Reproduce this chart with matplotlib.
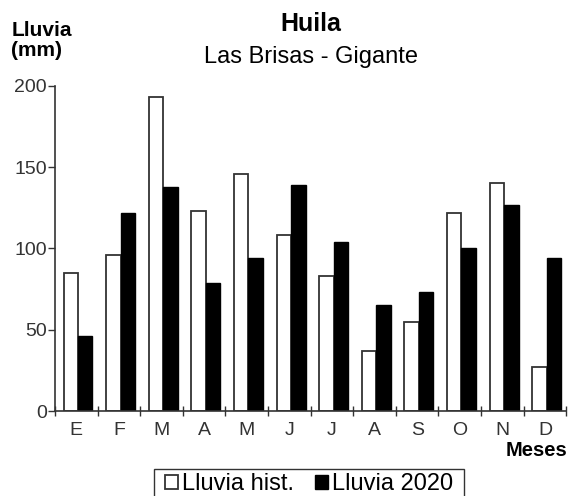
import matplotlib.pyplot as plt
from matplotlib.patches import Rectangle
import numpy as np

plt.rcParams["font.family"] = ["Liberation Sans", "DejaVu Sans"]

months = ["E", "F", "M", "A", "M", "J", "J", "A", "S", "O", "N", "D"]
lluvia_hist = [85, 96, 193, 123, 146, 108, 83, 37, 55, 122, 140, 27]
lluvia_2020 = [46, 122, 138, 79, 94, 139, 104, 65, 73, 100, 127, 94]
yticks = [0, 50, 100, 150, 200]

fig = plt.figure(figsize=(5.7, 4.96), dpi=100)
ax = fig.add_axes([0.0965, 0.171, 0.897, 0.656])

x = np.arange(len(months))
w = 0.34
off = 0.04
ax.bar(x - w / 2 + off, lluvia_hist, w, color="white", edgecolor="#333333",
       linewidth=1.3, label="Lluvia hist.")
ax.bar(x + w / 2 + off, lluvia_2020, w, color="black", edgecolor="black",
       linewidth=1.0, label="Lluvia 2020")

ax.set_xlim(-0.5, len(months) - 0.5)
ax.set_ylim(0, 200)
ax.set_yticks(yticks)
ax.set_xticks(x)
ax.set_xticklabels(months)
ax.set_xticks(np.arange(-0.5, len(months)), minor=True)
ax.tick_params(axis="x", which="major", length=0, labelsize=14,
               labelcolor="#333333", pad=8)
ax.tick_params(axis="x", which="minor", direction="inout", length=7,
               width=1, color="#333333")
ax.tick_params(axis="y", length=5, width=1, color="#333333",
               labelsize=14, labelcolor="#333333", pad=1)
for s in ["top", "right"]:
    ax.spines[s].set_visible(False)
for s in ["left", "bottom"]:
    ax.spines[s].set_color("#333333")
    ax.spines[s].set_linewidth(1.2)

fig.text(0.545, 0.951, "Huila", ha="center", va="center",
         fontsize=18, fontweight="bold")
fig.text(0.545, 0.886, "Las Brisas - Gigante", ha="center", va="center",
         fontsize=17)
fig.text(0.020, 0.918, "Lluvia\n(mm)", ha="left", va="center",
         fontsize=15, fontweight="bold", linespacing=1.05)
fig.text(0.995, 0.091, "Meses", ha="right", va="center",
         fontsize=14.5, fontweight="bold")

# legend without frame, box drawn by hand (the bottom edge runs off the figure)
leg = fig.legend(loc="upper center", bbox_to_anchor=(0.542, 0.0505), ncol=2,
                 fontsize=17, frameon=False,
                 handlelength=0.55, handleheight=0.55, handletextpad=0.15,
                 columnspacing=0.9, borderpad=0.1, borderaxespad=0)
fig.canvas.draw()
bb = leg.get_window_extent().transformed(fig.transFigure.inverted())
padx = 9 / 570
fig.add_artist(Rectangle((bb.x0 - padx, bb.y0 - 0.03), bb.width + 2 * padx,
                         (1 - 469 / 496) - bb.y0 + 0.03,
                         transform=fig.transFigure, fill=False,
                         edgecolor="#333333", linewidth=1.0))

fig.savefig("out.png", dpi=100)
